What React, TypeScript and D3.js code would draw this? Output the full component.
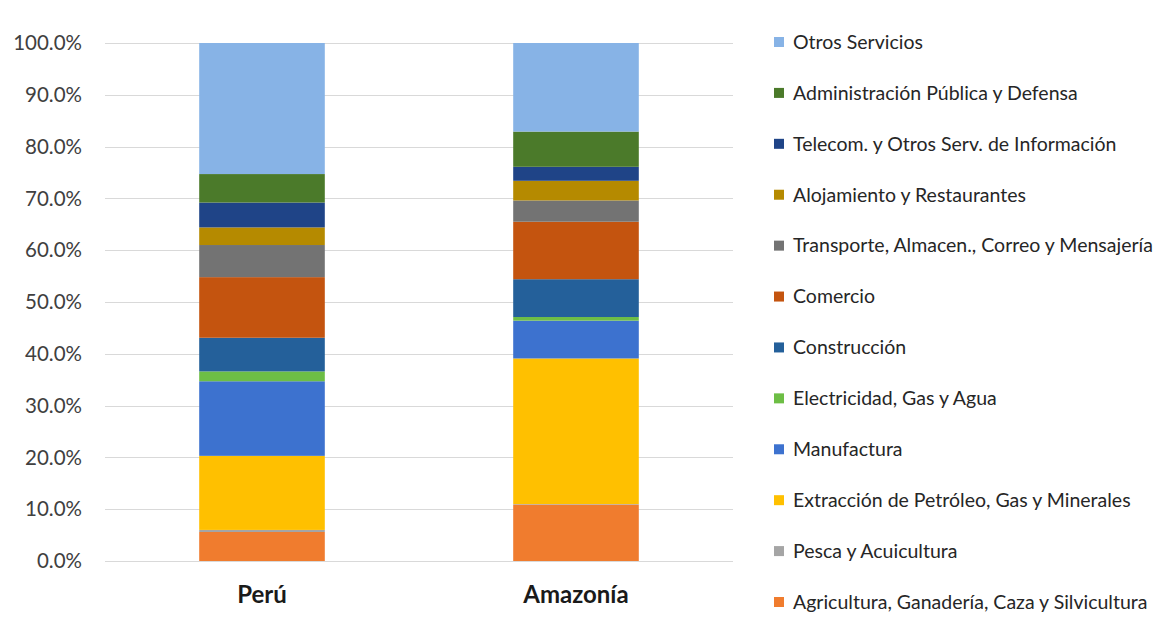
import React from "react";
import * as d3 from "d3";

const categories = ["Perú", "Amazonía"];

// stacked bottom -> top
const sectors = [
  "Agricultura, Ganadería, Caza y Silvicultura",
  "Pesca y Acuicultura",
  "Extracción de Petróleo, Gas y Minerales",
  "Manufactura",
  "Electricidad, Gas y Agua",
  "Construcción",
  "Comercio",
  "Transporte, Almacen., Correo y Mensajería",
  "Alojamiento y Restaurantes",
  "Telecom. y Otros Serv. de Información",
  "Administración Pública y Defensa",
  "Otros Servicios",
];

const peruValues = [5.6, 0.4, 14.3, 14.4, 1.9, 6.5, 11.7, 6.2, 3.4, 4.8, 5.5, 25.3];
const amazoniaValues = [10.9, 0.1, 28.1, 7.3, 0.7, 7.3, 11.1, 4.1, 3.8, 2.7, 6.8, 17.1];

const sectorColors = [
  "#F07C2E",
  "#A5A5A5",
  "#FFC000",
  "#3D72CF",
  "#6DBE45",
  "#24609A",
  "#C4540F",
  "#737373",
  "#B58A00",
  "#1F4487",
  "#4B7A2A",
  "#87B3E6",
];

const tickValues = [0, 0.1, 0.2, 0.3, 0.4, 0.5, 0.6, 0.7, 0.8, 0.9, 1.0];

const W = 1160;
const H = 619;
const FONT = "Lato, 'Open Sans', sans-serif";

export default function App() {
  const table = categories.map((c, i) => {
    const row: Record<string, any> = { category: c };
    const vals = i === 0 ? peruValues : amazoniaValues;
    const total = d3.sum(vals);
    sectors.forEach((s, j) => (row[s] = vals[j] / total));
    return row;
  });

  const stack = d3.stack<any>().keys(sectors);
  const series = stack(table);

  const y = d3.scaleLinear().domain([0, 1]).range([561, 43]);
  const x = d3
    .scaleBand<string>()
    .domain(categories)
    .range([105, 733])
    .paddingInner(0.6)
    .paddingOuter(0.3);

  const color = d3.scaleOrdinal<string, string>().domain(sectors).range(sectorColors);
  const fmt = d3.format(".1%");

  const legendOrder = [...sectors].reverse();
  const ly = d3.scalePoint<string>().domain(legendOrder).range([42, 602]);

  return (
    <svg
      width={W}
      height={H}
      style={{ position: "absolute", left: 0, top: 0, background: "#fff" }}
    >
      <rect x={0} y={0} width={W} height={H} fill="#fff" />
      {tickValues.map((t) => (
        <g key={t}>
          <line
            x1={105}
            x2={733}
            y1={Math.round(y(t)) + 0.5}
            y2={Math.round(y(t)) + 0.5}
            stroke="#d9d9d9"
            strokeWidth={1}
          />
          <text
            x={82}
            y={y(t)}
            dy="0.35em"
            textAnchor="end"
            fontFamily={FONT}
            fontSize={20.5}
            fill="#404040"
          >
            {fmt(t)}
          </text>
        </g>
      ))}
      {series.map((s) => (
        <g key={s.key} fill={color(s.key)}>
          {s.map((d) => (
            <rect
              key={d.data.category}
              x={x(d.data.category)}
              width={x.bandwidth()}
              y={y(d[1])}
              height={Math.max(0, y(d[0]) - y(d[1]))}
            />
          ))}
        </g>
      ))}
      {categories.map((c) => (
        <text
          key={c}
          x={(x(c) as number) + x.bandwidth() / 2}
          y={603}
          textAnchor="middle"
          fontFamily={FONT}
          fontWeight="bold"
          fontSize={24}
          fill="#1a1a1a"
        >
          {c}
        </text>
      ))}
      {legendOrder.map((s) => (
        <g key={s} transform={`translate(774, ${ly(s)})`}>
          <rect x={0} y={-5} width={10} height={10} fill={color(s)} />
          <text
            x={19}
            y={0}
            dy="0.35em"
            fontFamily={FONT}
            fontSize={19.5}
            fill="#262626"
          >
            {s}
          </text>
        </g>
      ))}
    </svg>
  );
}
